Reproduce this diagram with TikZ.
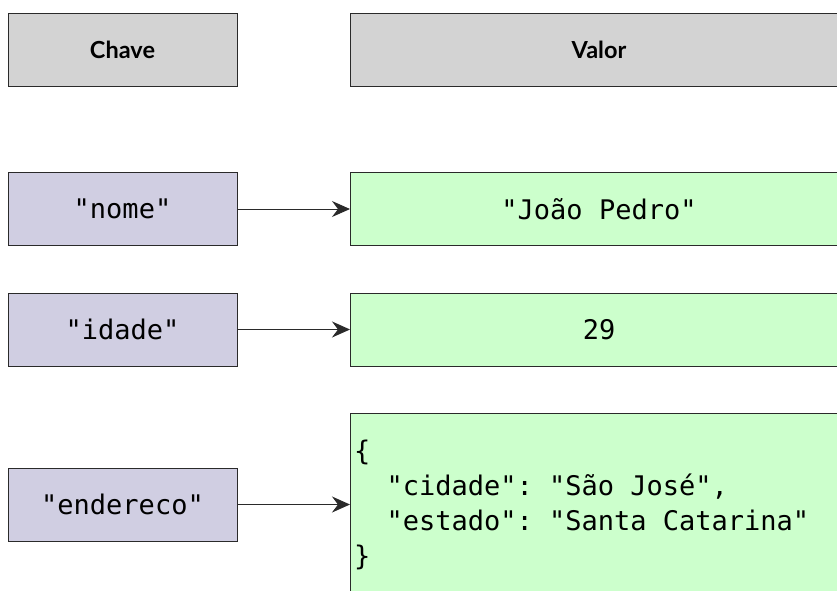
\documentclass[tikz,border=0pt]{standalone}
\usepackage{fontspec}
\setmainfont{Lato}
\newfontfamily\jsonmono{DejaVu Sans Mono}
\usetikzlibrary{arrows.meta}
\definecolor{hdrfill}{HTML}{D3D3D3}
\definecolor{keyfill}{HTML}{D0CEE2}
\definecolor{valfill}{HTML}{CCFFCC}
\definecolor{edgecol}{HTML}{2A2A2A}
\newcommand{\monoset}{\jsonmono\fontsize{27}{35}\selectfont\spaceskip=0.602em\relax}
\begin{document}
\begin{tikzpicture}[x=1pt,y=-1pt,
  box/.style={draw=edgecol, line width=1pt, inner sep=0pt, outer sep=0pt,
    minimum height=73pt, anchor=north west},
  hdrbox/.style={box, fill=hdrfill, font=\fontsize{23.5}{28}\selectfont\bfseries},
  keybox/.style={box, fill=keyfill, minimum width=229pt, font=\monoset},
  valbox/.style={box, fill=valfill, minimum width=498pt, font=\monoset},
  link/.style={draw=edgecol, line width=1pt,
    -{Stealth[length=18pt,width=16pt,inset=6pt]}}]
\useasboundingbox (0,0) rectangle (837,590);
\clip (0,0) rectangle (837,590);
% headers
\node[hdrbox, minimum width=229pt] (hk) at (8,13.5) {Chave};
\node[hdrbox, minimum width=498pt] (hv) at (350,13.5) {Valor};
% keys
\node[keybox] (k1) at (8,172.5) {"nome"};
\node[keybox] (k2) at (8,293) {"idade"};
\node[keybox] (k3) at (8,468) {"endereco"};
% values
\node[valbox] (v1) at (350,172.5) {"João Pedro"};
\node[valbox] (v2) at (350,293) {29};
\node[valbox, minimum height=183pt, text width=490pt, inner xsep=4pt, align=left] (v3) at (350,413)
  {\{\\
   \phantom{xx}"cidade":\hspace{0.602em}"São\hspace{0.602em}José",\\
   \phantom{xx}"estado":\hspace{0.602em}"Santa\hspace{0.602em}Catarina"\\
   \}};
% connectors
\draw[link] (k1.east) -- (v1.west);
\draw[link] (k2.east) -- (v2.west);
\draw[link] (k3.east) -- (k3.east -| v3.west);
\end{tikzpicture}
\end{document}
